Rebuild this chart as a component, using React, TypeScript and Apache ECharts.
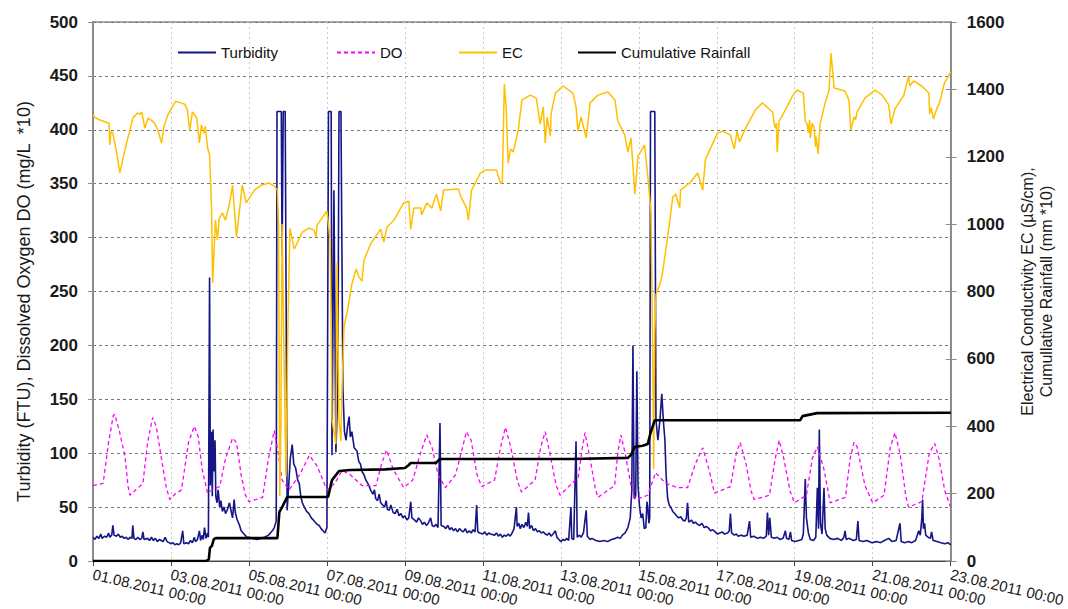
import React, { useEffect, useRef } from "react";
import * as echarts from "echarts";

// x values are days since 01.08.2011 00:00
const xTickLabels = [
  "01.08.2011 00:00", "03.08.2011 00:00", "05.08.2011 00:00", "07.08.2011 00:00",
  "09.08.2011 00:00", "11.08.2011 00:00", "13.08.2011 00:00", "15.08.2011 00:00",
  "17.08.2011 00:00", "19.08.2011 00:00", "21.08.2011 00:00", "23.08.2011 00:00",
];

const seriesNames = ["Turbidity", "DO", "EC", "Cumulative Rainfall"];

const turbidity: [number, number][] = [
  [0, 22], [0.05, 20], [0.1, 23], [0.15, 21], [0.2, 25], [0.23, 21], [0.3, 23], [0.35, 22], [0.4, 26],
  [0.43, 22], [0.48, 24], [0.51, 33], [0.54, 24], [0.6, 23], [0.65, 25], [0.7, 22], [0.75, 23], [0.8, 21],
  [0.85, 22], [0.9, 20], [0.95, 22], [1.0, 21], [1.02, 33], [1.05, 21], [1.1, 20], [1.15, 22], [1.2, 20],
  [1.25, 21], [1.28, 27], [1.31, 20], [1.4, 21], [1.45, 19], [1.5, 22], [1.55, 19], [1.6, 21], [1.65, 18],
  [1.7, 20], [1.75, 19], [1.8, 18], [1.85, 22], [1.9, 18], [1.95, 17], [2.0, 16], [2.05, 17], [2.1, 15],
  [2.15, 16], [2.2, 15], [2.25, 17], [2.3, 28], [2.33, 16], [2.4, 17], [2.45, 16], [2.5, 19], [2.55, 17],
  [2.6, 22], [2.63, 18], [2.68, 20], [2.73, 28], [2.76, 19], [2.8, 24], [2.83, 20], [2.86, 31], [2.9, 21],
  [2.94, 26], [2.96, 22], [2.99, 263], [3.01, 70], [3.04, 120], [3.06, 60], [3.08, 122], [3.1, 83],
  [3.13, 112], [3.15, 60], [3.18, 54], [3.21, 66], [3.25, 50], [3.28, 56], [3.32, 46], [3.36, 50],
  [3.4, 44], [3.45, 48], [3.5, 54], [3.55, 45], [3.58, 40], [3.62, 57], [3.65, 45], [3.7, 38], [3.75, 34],
  [3.8, 28], [3.85, 26], [3.9, 24], [3.95, 22], [4.0, 22], [4.1, 21], [4.2, 20], [4.3, 21], [4.4, 22],
  [4.5, 24], [4.55, 26], [4.6, 28], [4.65, 31], [4.7, 37], [4.72, 417], [4.83, 417], [4.85, 283],
  [4.88, 417], [4.93, 417], [4.98, 47], [5.02, 70], [5.06, 95], [5.11, 108], [5.15, 90], [5.2, 86],
  [5.25, 75], [5.29, 72], [5.33, 60], [5.37, 54], [5.42, 50], [5.48, 46], [5.54, 44], [5.6, 40],
  [5.65, 38], [5.7, 36], [5.75, 34], [5.8, 33], [5.85, 30], [5.9, 28], [5.95, 26], [6.0, 31], [6.04, 417],
  [6.11, 417], [6.13, 98], [6.18, 344], [6.23, 101], [6.28, 160], [6.31, 417], [6.36, 417], [6.41, 160],
  [6.45, 120], [6.49, 112], [6.53, 125], [6.57, 134], [6.6, 115], [6.64, 120], [6.7, 105], [6.77, 102],
  [6.82, 92], [6.86, 90], [6.9, 83], [6.95, 80], [7.0, 75], [7.05, 72], [7.1, 68], [7.13, 65], [7.18, 62],
  [7.22, 66], [7.25, 58], [7.3, 56], [7.34, 62], [7.38, 54], [7.43, 52], [7.48, 50], [7.52, 56], [7.55, 48],
  [7.6, 47], [7.64, 52], [7.7, 45], [7.75, 44], [7.8, 48], [7.85, 42], [7.9, 44], [7.95, 40], [8.0, 42],
  [8.05, 38], [8.1, 40], [8.15, 55], [8.18, 40], [8.25, 38], [8.3, 36], [8.35, 40], [8.41, 37], [8.45, 34],
  [8.5, 36], [8.55, 33], [8.6, 35], [8.66, 40], [8.7, 33], [8.75, 32], [8.8, 34], [8.85, 31], [8.9, 128],
  [8.93, 33], [9.0, 32], [9.05, 30], [9.1, 33], [9.15, 29], [9.2, 31], [9.25, 28], [9.3, 30], [9.35, 27],
  [9.4, 30], [9.45, 28], [9.5, 27], [9.55, 30], [9.6, 26], [9.65, 28], [9.7, 26], [9.75, 29], [9.8, 27],
  [9.84, 52], [9.87, 27], [9.92, 26], [10.0, 25], [10.05, 27], [10.1, 24], [10.15, 26], [10.2, 25],
  [10.3, 24], [10.35, 26], [10.4, 23], [10.45, 25], [10.5, 22], [10.55, 24], [10.6, 23], [10.65, 25],
  [10.7, 23], [10.75, 26], [10.8, 30], [10.86, 50], [10.88, 32], [10.92, 35], [10.96, 30], [11.0, 34],
  [11.05, 31], [11.1, 36], [11.14, 32], [11.17, 45], [11.2, 30], [11.25, 33], [11.3, 28], [11.35, 30],
  [11.4, 27], [11.45, 28], [11.5, 26], [11.55, 27], [11.6, 25], [11.65, 24], [11.7, 26], [11.75, 23],
  [11.8, 25], [11.86, 28], [11.9, 22], [11.95, 20], [12.0, 18], [12.05, 20], [12.1, 19], [12.15, 21],
  [12.2, 19], [12.26, 50], [12.28, 21], [12.33, 20], [12.39, 111], [12.42, 22], [12.48, 24], [12.52, 22],
  [12.58, 26], [12.65, 47], [12.68, 23], [12.75, 20], [12.8, 21], [12.9, 19], [13.0, 18], [13.1, 19],
  [13.2, 18], [13.3, 20], [13.4, 21], [13.46, 22], [13.52, 21], [13.58, 24], [13.65, 26], [13.72, 31],
  [13.78, 40], [13.82, 65], [13.85, 200], [13.88, 58], [13.92, 60], [13.95, 176], [13.98, 70], [14.02, 50],
  [14.06, 40], [14.1, 44], [14.14, 30], [14.18, 31], [14.21, 55], [14.23, 50], [14.26, 35], [14.28, 40],
  [14.3, 417], [14.41, 417], [14.44, 131], [14.49, 112], [14.54, 130], [14.59, 155], [14.63, 130],
  [14.67, 112], [14.7, 80], [14.74, 58], [14.78, 52], [14.82, 50], [14.87, 46], [14.92, 44], [14.97, 42],
  [15.02, 40], [15.08, 41], [15.13, 38], [15.18, 37], [15.22, 40], [15.25, 54], [15.28, 36], [15.35, 38],
  [15.4, 35], [15.45, 36], [15.51, 34], [15.56, 33], [15.62, 35], [15.68, 31], [15.74, 32], [15.8, 30],
  [15.84, 28], [15.9, 29], [15.96, 27], [16.02, 25], [16.08, 26], [16.14, 27], [16.2, 25], [16.28, 26],
  [16.32, 28], [16.35, 44], [16.38, 26], [16.45, 24], [16.5, 25], [16.55, 23], [16.62, 24], [16.7, 23],
  [16.78, 24], [16.84, 37], [16.87, 22], [16.95, 23], [17.05, 21], [17.12, 22], [17.2, 21], [17.27, 23],
  [17.3, 45], [17.33, 24], [17.36, 40], [17.4, 22], [17.48, 21], [17.55, 22], [17.62, 20], [17.7, 21],
  [17.76, 28], [17.79, 21], [17.85, 20], [17.89, 27], [17.92, 19], [18.01, 18], [18.1, 19], [18.18, 20],
  [18.22, 25], [18.27, 76], [18.3, 40], [18.35, 26], [18.4, 20], [18.48, 19], [18.54, 22], [18.58, 68],
  [18.61, 30], [18.63, 122], [18.66, 35], [18.7, 25], [18.75, 68], [18.78, 30], [18.82, 24], [18.9, 21],
  [19.0, 20], [19.1, 21], [19.2, 19], [19.26, 22], [19.29, 28], [19.32, 20], [19.4, 21], [19.5, 19],
  [19.58, 20], [19.62, 37], [19.65, 19], [19.75, 18], [19.85, 19], [19.98, 17], [20.1, 18], [20.2, 17],
  [20.3, 19], [20.41, 21], [20.5, 18], [20.6, 19], [20.7, 35], [20.73, 18], [20.82, 17], [20.92, 18],
  [21.0, 17], [21.1, 19], [21.18, 28], [21.22, 24], [21.26, 40], [21.28, 57], [21.3, 30], [21.33, 35],
  [21.36, 24], [21.42, 22], [21.48, 21], [21.51, 27], [21.55, 19], [21.65, 18], [21.75, 17], [21.85, 16],
  [21.93, 17], [22, 15],
];

const dissolvedOxygen: [number, number][] = [
  [0, 70], [0.26, 72], [0.4, 110], [0.52, 135], [0.56, 136], [0.68, 120], [0.82, 97], [0.9, 69],
  [0.95, 61], [1.1, 66], [1.28, 72], [1.4, 110], [1.53, 133], [1.62, 125], [1.76, 94], [1.88, 68],
  [1.97, 57], [2.1, 62], [2.27, 66], [2.45, 110], [2.6, 125], [2.7, 115], [2.8, 85], [2.94, 63],
  [3.1, 67], [3.25, 69], [3.4, 95], [3.58, 114], [3.68, 110], [3.8, 80], [3.9, 62], [4.0, 55],
  [4.35, 59], [4.5, 95], [4.65, 121], [4.75, 100], [4.85, 75], [5.03, 66], [5.3, 80], [5.55, 98],
  [5.75, 88], [6.0, 66], [6.2, 72], [6.39, 84], [6.6, 80], [6.9, 70], [7.26, 70], [7.4, 90],
  [7.53, 103], [7.7, 85], [7.97, 68], [8.2, 75], [8.4, 100], [8.56, 117], [8.7, 105], [8.85, 80],
  [9.04, 68], [9.3, 80], [9.58, 120], [9.7, 112], [9.85, 80], [9.97, 69], [10.3, 75], [10.45, 105],
  [10.58, 124], [10.72, 105], [10.88, 75], [10.99, 64], [11.34, 75], [11.48, 105], [11.6, 120],
  [11.72, 100], [11.88, 70], [11.98, 61], [12.45, 78], [12.55, 105], [12.62, 119], [12.75, 95],
  [12.88, 68], [12.95, 59], [13.38, 70], [13.46, 100], [13.54, 117], [13.65, 100], [13.8, 70],
  [13.92, 57], [14.23, 61], [14.43, 82], [14.69, 72], [15.0, 68], [15.25, 68], [15.45, 90],
  [15.64, 105], [15.8, 85], [15.94, 63], [16.35, 69], [16.5, 100], [16.6, 110], [16.75, 90],
  [16.88, 65], [16.96, 57], [17.35, 61], [17.5, 95], [17.6, 112], [17.72, 95], [17.88, 65],
  [17.99, 54], [18.3, 61], [18.45, 95], [18.58, 106], [18.75, 85], [18.91, 54], [19.3, 59],
  [19.42, 95], [19.52, 110], [19.6, 106], [19.8, 70], [20.0, 54], [20.29, 61], [20.45, 105],
  [20.57, 119], [20.7, 100], [20.85, 60], [20.92, 50], [21.26, 55], [21.45, 100], [21.59, 109],
  [21.7, 95], [21.85, 65], [22, 50],
];

const electricalConductivity: [number, number][] = [
  [0, 1324], [0.06, 1316], [0.12, 1312], [0.18, 1309], [0.25, 1306], [0.32, 1303], [0.41, 1300],
  [0.43, 1235], [0.46, 1275], [0.51, 1270], [0.6, 1215], [0.69, 1152], [0.8, 1210], [0.88, 1250],
  [0.95, 1279], [1.02, 1315], [1.08, 1322], [1.14, 1330], [1.2, 1326], [1.25, 1333], [1.33, 1285],
  [1.41, 1315], [1.5, 1308], [1.58, 1300], [1.66, 1280], [1.76, 1241], [1.82, 1290], [1.92, 1324],
  [2.02, 1345], [2.12, 1365], [2.25, 1360], [2.35, 1356], [2.42, 1340], [2.48, 1279], [2.55, 1333],
  [2.66, 1315], [2.73, 1241], [2.78, 1294], [2.85, 1270], [2.88, 1290], [2.94, 1226], [2.99, 1205],
  [3.04, 1051], [3.07, 825], [3.14, 1012], [3.19, 953], [3.24, 1018], [3.32, 1033], [3.4, 1012],
  [3.5, 1060], [3.58, 1116], [3.68, 962], [3.83, 1116], [3.93, 1063], [4.14, 1101], [4.32, 1116],
  [4.52, 1122], [4.65, 1113], [4.73, 1101], [4.76, 1000], [4.79, 193], [4.82, 400], [4.85, 1000],
  [4.9, 600], [4.95, 250], [5.0, 700], [5.05, 988], [5.16, 926], [5.37, 976], [5.54, 988], [5.67, 982],
  [5.72, 962], [5.75, 997], [6.0, 1039], [6.08, 956], [6.11, 727], [6.13, 418], [6.23, 347], [6.26, 885],
  [6.31, 418], [6.36, 356], [6.39, 522], [6.44, 697], [6.52, 739], [6.64, 822], [6.75, 867],
  [6.82, 843], [6.9, 831], [6.95, 893], [7.13, 944], [7.38, 985], [7.46, 947], [7.54, 991],
  [7.72, 1012], [7.97, 1063], [8.1, 1068], [8.15, 985], [8.23, 1048], [8.41, 1048], [8.43, 1027],
  [8.56, 1063], [8.69, 1048], [8.81, 1089], [8.92, 1039], [8.99, 1101], [9.38, 1104], [9.43, 1083],
  [9.58, 1048], [9.63, 1012], [9.71, 1101], [9.94, 1152], [10.07, 1161], [10.35, 1161], [10.45, 1122],
  [10.5, 1122], [10.55, 1416], [10.6, 1339], [10.65, 1181], [10.71, 1223], [10.78, 1214], [10.91, 1280],
  [11.0, 1368], [11.22, 1383], [11.37, 1374], [11.47, 1297], [11.55, 1348], [11.6, 1241], [11.65, 1318],
  [11.73, 1261], [11.75, 1327], [11.86, 1389], [12.06, 1410], [12.31, 1389], [12.39, 1348],
  [12.44, 1276], [12.52, 1318], [12.65, 1256], [12.75, 1360], [12.95, 1383], [13.21, 1392],
  [13.39, 1368], [13.46, 1306], [13.64, 1264], [13.72, 1214], [13.8, 1256], [13.9, 1089],
  [13.98, 1202], [14.15, 1235], [14.23, 1143], [14.31, 1039], [14.36, 600], [14.38, 273], [14.41, 677],
  [14.44, 790], [14.54, 822], [14.59, 843], [14.67, 905], [14.79, 1006], [14.87, 1080], [14.95, 1089],
  [15.05, 1048], [15.07, 1101], [15.33, 1125], [15.51, 1152], [15.64, 1101], [15.71, 1193],
  [16.02, 1270], [16.15, 1276], [16.35, 1264], [16.45, 1223], [16.52, 1276], [16.58, 1244],
  [16.74, 1285], [16.99, 1339], [17.17, 1360], [17.43, 1333], [17.47, 1300], [17.5, 1285], [17.53, 1300],
  [17.55, 1214], [17.6, 1306], [17.76, 1339], [17.94, 1380], [18.06, 1398], [18.22, 1389], [18.27, 1306],
  [18.32, 1297], [18.35, 1270], [18.38, 1310], [18.4, 1256], [18.45, 1300], [18.5, 1285], [18.53, 1230],
  [18.55, 1260], [18.6, 1208], [18.65, 1297], [18.78, 1360], [18.88, 1398], [18.93, 1508], [19.01, 1404],
  [19.29, 1395], [19.39, 1368], [19.44, 1279], [19.52, 1318], [19.56, 1310], [19.6, 1333], [19.8, 1374],
  [20.06, 1398], [20.24, 1383], [20.41, 1354], [20.47, 1297], [20.57, 1342], [20.8, 1383], [20.92, 1440],
  [20.95, 1410], [21.05, 1425], [21.26, 1410], [21.44, 1389], [21.46, 1327], [21.5, 1345], [21.56, 1312],
  [21.64, 1342], [21.72, 1362], [21.84, 1419], [22, 1451],
];

const cumulativeRainfall: [number, number][] = [
  [0, 0], [2.9, 0], [2.97, 5], [3.0, 39], [3.05, 45], [3.1, 65], [3.15, 68], [4.73, 68], [4.78, 145],
  [4.85, 160], [4.98, 190], [6.03, 190], [6.13, 240], [6.31, 267], [6.6, 270], [7.5, 272], [8.0, 276],
  [8.1, 285], [8.15, 291], [8.8, 291], [8.9, 303], [12.26, 303], [13.72, 306], [13.8, 315],
  [13.9, 339], [14.1, 342], [14.23, 347], [14.3, 380], [14.41, 418], [18.14, 418], [18.2, 430],
  [18.57, 439], [22, 440],
];

const FONT = "'Liberation Sans', Arial, sans-serif";

export default function App() {
  const ref = useRef<HTMLDivElement>(null);

  useEffect(() => {
    if (!ref.current) return;
    const chart = echarts.init(ref.current, undefined, { renderer: "svg" });

    const legendPos = [172, 331, 453, 572];
    const legends = seriesNames.map((n, i) => ({
      data: [n],
      left: legendPos[i],
      top: 40,
      itemWidth: 38,
      itemHeight: 14,
      itemStyle: { opacity: 0 },
      textStyle: { fontFamily: FONT, fontSize: 15, color: "#111" },
      selectedMode: false,
    }));

    const valueLabel = {
      fontFamily: FONT, fontSize: 17, fontWeight: "bold", color: "#1a1a1a", margin: 15,
      formatter: (v: number) => String(v),
    };

    chart.setOption({
      animation: false,
      backgroundColor: "#ffffff",
      legend: legends,
      grid: {
        left: 93, right: 114, top: 22, bottom: 48,
        show: true, borderColor: "#8c8c8c", borderWidth: 1.5, backgroundColor: "transparent",
      },
      xAxis: {
        type: "value",
        min: 0,
        max: 22,
        interval: 2,
        axisLine: { show: true, onZero: false, lineStyle: { color: "#444", width: 1.2 } },
        axisTick: { show: true, inside: false, length: 5, lineStyle: { color: "#444" } },
        splitLine: { show: true, lineStyle: { color: "#c8c8c8", type: [2, 3], width: 1 } },
        axisLabel: {
          rotate: -13,
          margin: 13,
          fontFamily: FONT,
          fontSize: 15,
          color: "#1a1a1a",
          formatter: (v: number) => xTickLabels[Math.round(v / 2)] ?? "",
        },
      },
      yAxis: [
        {
          type: "value",
          position: "left",
          min: 0,
          max: 500,
          interval: 50,
          name: "Turbidity (FTU), Dissolved Oxygen DO (mg/L  *10)",
          nameLocation: "middle",
          nameRotate: 90,
          nameGap: 60,
          nameTextStyle: { fontFamily: FONT, fontSize: 18, color: "#1a1a1a", padding: [0, 20, 0, 0] },
          axisLine: { show: true, lineStyle: { color: "#8c8c8c", width: 2 } },
          axisTick: { show: true, inside: false, length: 5, lineStyle: { color: "#8c8c8c" } },
          splitLine: { show: true, lineStyle: { color: "#7a7a7a", type: [3, 3], width: 1 } },
          axisLabel: valueLabel,
        },
        {
          type: "value",
          position: "right",
          min: 0,
          max: 1600,
          interval: 200,
          name: "Electrical Conductivity EC (µS/cm),\nCumullative Rainfall (mm *10)",
          nameLocation: "middle",
          nameRotate: 90,
          nameGap: 67,
          nameTextStyle: { fontFamily: FONT, fontSize: 16, color: "#1a1a1a", lineHeight: 19 },
          axisLine: { show: true, lineStyle: { color: "#8c8c8c", width: 2 } },
          axisTick: { show: true, inside: false, length: 6, lineStyle: { color: "#8c8c8c" } },
          splitLine: { show: false },
          axisLabel: { ...valueLabel, margin: 16 },
        },
        {
          type: "value",
          position: "right",
          min: 0,
          max: 1600,
          interval: 200,
          axisLine: { show: false },
          axisTick: { show: true, inside: true, length: 5, lineStyle: { color: "#8c8c8c" } },
          splitLine: { show: false },
          axisLabel: { show: false },
        },
      ],
      series: [
        {
          name: seriesNames[0], type: "line", yAxisIndex: 0, symbol: "none", data: turbidity,
          lineStyle: { color: "#151585", width: 1.6 }, itemStyle: { color: "#151585" }, z: 2,
        },
        {
          name: seriesNames[1], type: "line", yAxisIndex: 0, symbol: "none", data: dissolvedOxygen,
          lineStyle: { color: "#ff00ff", width: 1.3, type: [4, 3] }, itemStyle: { color: "#ff00ff" }, z: 3,
        },
        {
          name: seriesNames[2], type: "line", yAxisIndex: 1, symbol: "none", data: electricalConductivity,
          lineStyle: { color: "#ffc000", width: 1.5 }, itemStyle: { color: "#ffc000" }, z: 4,
        },
        {
          name: seriesNames[3], type: "line", yAxisIndex: 1, symbol: "none", data: cumulativeRainfall,
          lineStyle: { color: "#000000", width: 2.6 }, itemStyle: { color: "#000000" }, z: 5,
        },
      ],
    });

    return () => chart.dispose();
  }, []);

  return (
    <div
      ref={ref}
      style={{ position: "fixed", left: 0, top: 0, width: 1068, height: 609, background: "#fff" }}
    />
  );
}
